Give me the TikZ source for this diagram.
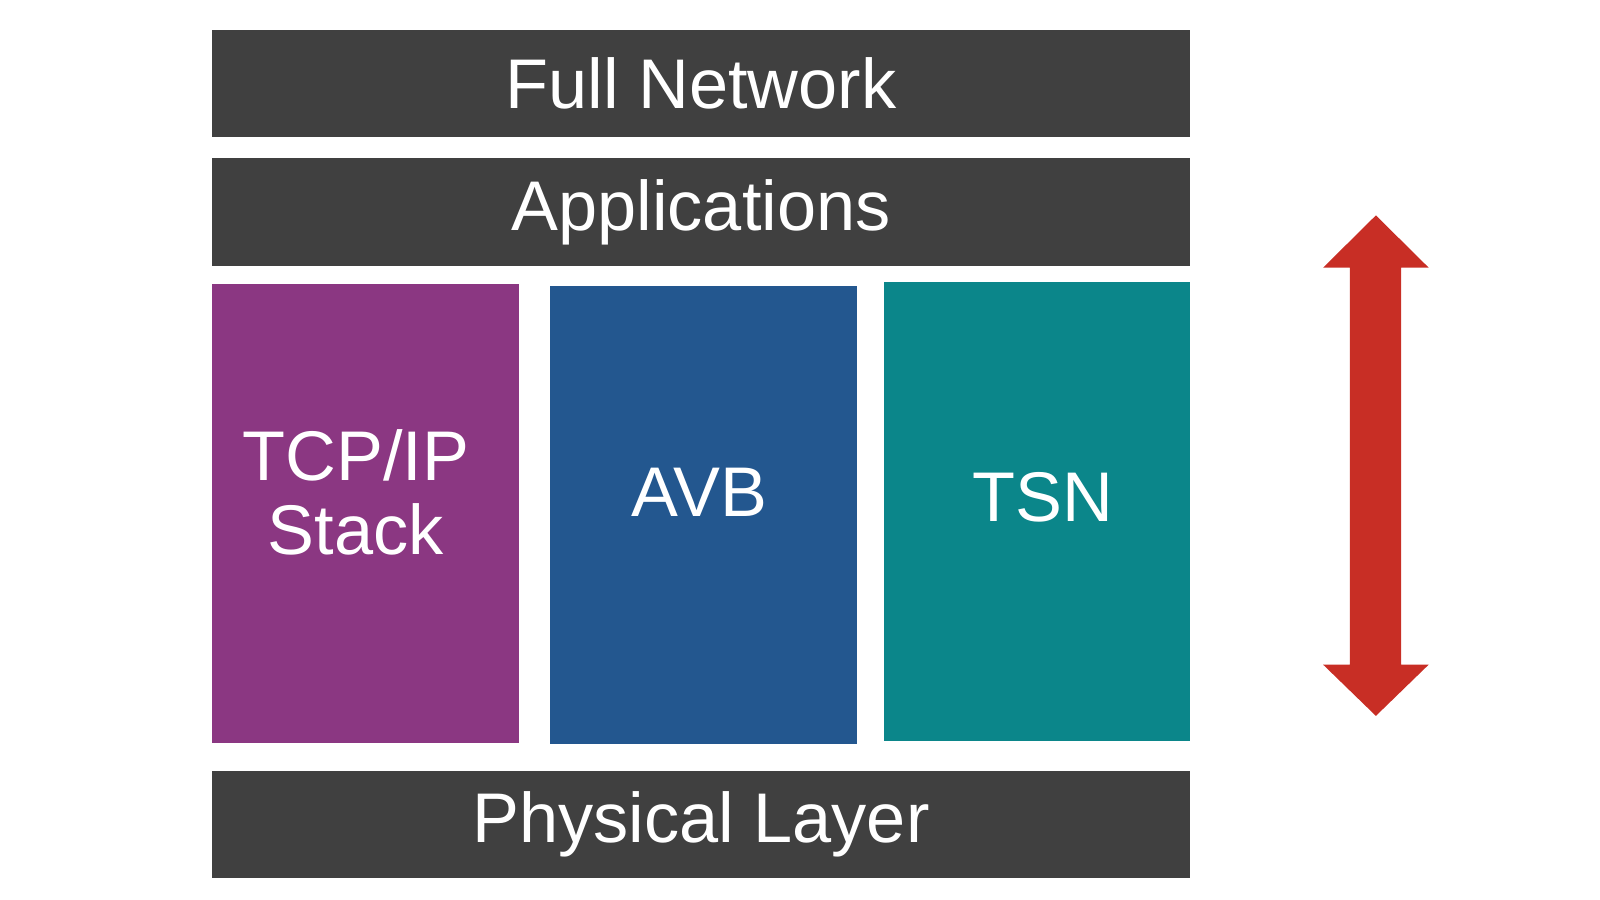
\documentclass[tikz,border=0pt]{standalone}
\usepackage{fontspec}
\setmainfont{Liberation Sans}
\usetikzlibrary{positioning, calc, math}
\definecolor{darkbar}{HTML}{404040}
\definecolor{tcpcol}{HTML}{8B3782}
\definecolor{avbcol}{HTML}{23578F}
\definecolor{tsncol}{HTML}{0B868A}
\definecolor{arrowcol}{HTML}{C82E25}
\begin{document}
\begin{tikzpicture}[x=0.010256cm, y=-0.010256cm]
		\tikzmath{
			\barW  = 9.774;  %bar width
			\barH  = 1.077;  %bar height
			\colW  = 3.067;  %column width
			\colH  = 4.585;  %column height
		}
		\tikzstyle{Base} = [
			text centered,
			text=white,
			inner sep=0pt,
			font=\fontsize{20}{21}\selectfont,
		]
		\tikzstyle{Bar} = [
			fill=darkbar,
			minimum width=\barW cm,
			minimum height=\barH cm,
			Base
		]
		\tikzstyle{Column} = [
			minimum width=\colW cm,
			minimum height=\colH cm,
			align=center,
			Base
		]
		\useasboundingbox (0,0) rectangle (1560,877.5);
		%%%%%%%%%%%%%%%%%%%%%%%%%%===---BARS---===%%%%%%%%%%%%%%%%%%%%%%%%%%
		\node (full) [Bar] at (683.5,81.5) {Full Network};
		\node (apps) [Bar] at (683.5,207) {Applications};
		\node (phys) [Bar] at (683.5,804) {Physical Layer};
		%%%%%%%%%%%%%%%%%%%%%%%%%%===---COLUMNS---===%%%%%%%%%%%%%%%%%%%%%%%%%%
		\node (tcp) [Column, fill=tcpcol] at (356.5,500.5) {};
		\node [Base, align=center] at (347,480) {TCP/IP\\Stack};
		\node (avb) [Column, fill=avbcol] at (686,502) {};
		\node [Base] at (682,480) {AVB};
		\node (tsn) [Column, fill=tsncol] at (1011,499) {};
		\node [Base] at (1017,485) {TSN};
		%%%%%%%%%%%%%%%%%%%%%%%%%%===---ARROW---===%%%%%%%%%%%%%%%%%%%%%%%%%%
		\fill [arrowcol] (1341.5,210) -- (1393,261) -- (1366,261) -- (1366,648)
			-- (1393,648) -- (1341.5,698) -- (1290,648) -- (1316,648)
			-- (1316,261) -- (1290,261) -- cycle;
\end{tikzpicture}
\end{document}
